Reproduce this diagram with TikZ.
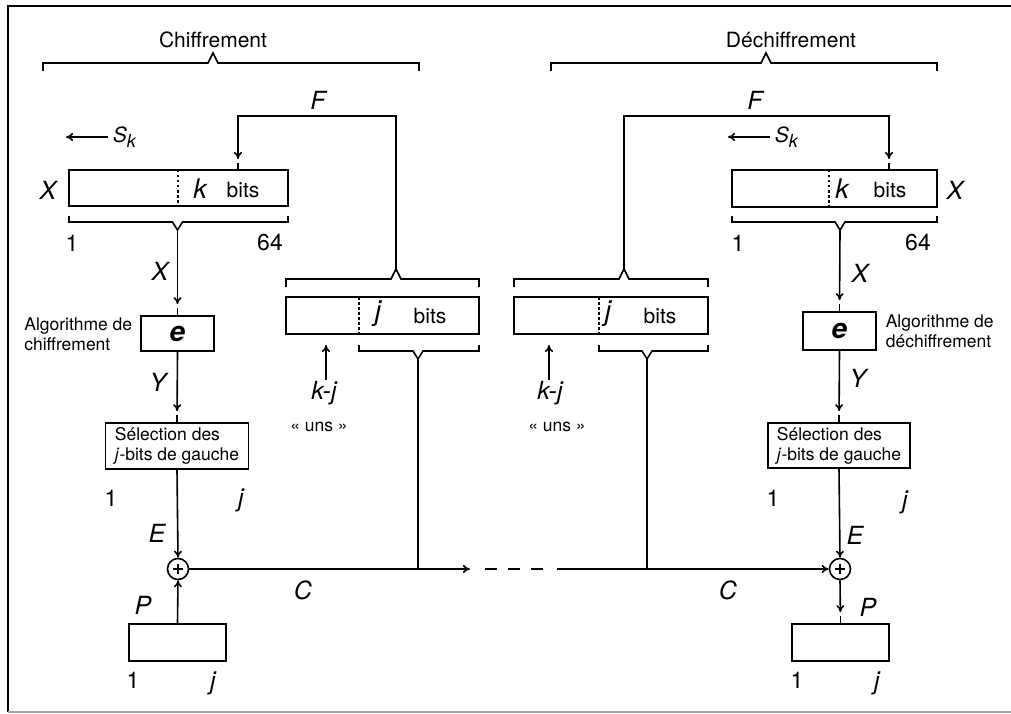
\documentclass[tikz,border=0pt]{standalone}
\usepackage{fontspec}
\setmainfont{TeX Gyre Heros}
\usetikzlibrary{arrows.meta}

% crochets horizontaux : x1, x2, y, x du sommet
\newcommand\brackup[4]{\draw (#1,#3+8) -- (#1,#3) -- (#4-5,#3) -- (#4,#3-10) -- (#4+5,#3) -- (#2,#3) -- (#2,#3+8);}
\newcommand\brackdown[4]{\draw (#1,#3-6) -- (#1,#3) -- (#4-5,#3) -- (#4,#3+8) -- (#4+5,#3) -- (#2,#3) -- (#2,#3-6);}
\newcommand\Sk{\textit{S}\raisebox{-5pt}{\fontsize{18}{18}\selectfont\textit{k}}}

\begin{document}
\begin{tikzpicture}[x=1pt, y=-1pt, >={To[length=7pt,width=8pt]}, line width=1.6pt,
    box/.style={draw, line width=1.8pt, inner sep=0pt},
    var/.style={font=\fontsize{25}{27}\selectfont\itshape, inner sep=0pt},
    txt/.style={font=\fontsize{21}{24}\selectfont, inner sep=0pt},
    num/.style={font=\fontsize{23}{25}\selectfont, inner sep=0pt},
    small/.style={font=\fontsize{17.5}{20}\selectfont, align=left, inner sep=0pt},
    divider/.style={line width=1.6pt, dash pattern=on 2.5pt off 2.5pt},
    into/.style={->, shorten >=11pt}]

    \useasboundingbox (0,0) rectangle (1011,714);

    % 0. Cadre
    \draw (8,712) -- (8,6) -- (1011,6);
    \draw[gray!70] (8,712) -- (1011,712);

    % 1. Titres et grands crochets
    \node[txt] (tchif) at (213,40) {Chiffrement};
    \node[txt] (tdech) at (791,40) {Déchiffrement};
    \brackup{43}{419}{63}{213}
    \brackup{551}{937}{63}{766}

    % 2. Registres X de 64 bits
    \node[box, minimum width=219, minimum height=36] (xl) at (178.5,188) {};
    \node[box, minimum width=205, minimum height=37] (xr) at (834.5,188.5) {};
    \draw[divider] (178,170) -- (178,206);
    \draw[divider] (829,170) -- (829,207);
    \node[var, font=\fontsize{27}{29}\selectfont\itshape] at (200,189) {k};
    \node[txt] at (243,190) {bits};
    \node[var, font=\fontsize{27}{29}\selectfont\itshape] at (842,189) {k};
    \node[txt] at (890,190) {bits};
    \node[var] at (48,190) {X};
    \node[var] at (955,190) {X};
    \brackdown{69}{288}{222}{177.5}
    \brackdown{732}{937}{222}{840}
    \node[num] at (72,243) {1};
    \node[num] at (270,243) {64};
    \node[num] at (738,243) {1};
    \node[num] at (918,243) {64};

    % 3. Décalage S_k
    \node[txt, anchor=west] (skl) at (112,137) {\Sk};
    \node[txt, anchor=west] (skr) at (774,137) {\Sk};
    \draw[->, shorten <=4pt] (skl.west) -- ++(-46,0);
    \draw[->, shorten <=4pt] (skr.west) -- ++(-46,0);

    % 4. Registres de j bits
    \node[box, minimum width=193, minimum height=37] (jl) at (382.5,315.5) {};
    \node[box, minimum width=194, minimum height=37] (jr) at (611,315.5) {};
    \draw[divider] (359,297) -- (359,334);
    \draw[divider] (599,297) -- (599,334);
    \node[var, font=\fontsize{28}{30}\selectfont\itshape] at (378,314) {j};
    \node[txt] at (430,316) {bits};
    \node[var, font=\fontsize{28}{30}\selectfont\itshape] at (608,314) {j};
    \node[txt] at (660,316) {bits};
    \brackup{286}{479}{279}{396}
    \brackup{514}{708}{279}{624}
    \brackdown{359}{479}{351}{418}
    \brackdown{599}{708}{351}{647}
    \node[var] (kjl) at (324,393) {k-j};
    \node[var] (kjr) at (550,393) {k-j};
    \node[small] at (319,427) {« uns »};
    \node[small] at (557,427) {« uns »};
    \draw[->] (kjl.north -| 326,0) -- (326,345);
    \draw[->] (kjr.north -| 549,0) -- (549,345);

    % 5. Rebouclage F
    \coordinate (cl) at (396,269);
    \coordinate (cr) at (624,269);
    \coordinate (finl) at (238,170);
    \coordinate (finr) at (889,170);
    \draw[into] (cl) -- (396,116) -| (finl);
    \draw[into] (cr) -- (624,116) -| (finr);
    \draw (finl) -- ++(0,-7);
    \draw (finr) -- ++(0,-7);
    \node[var] at (318,100) {F};
    \node[var] at (755,100) {F};

    % 6. Algorithmes e
    \node[box, minimum width=73, minimum height=35,
          font=\fontsize{28}{29}\selectfont\bfseries\itshape] (el) at (177.5,333.5) {e};
    \node[box, minimum width=73, minimum height=38,
          font=\fontsize{28}{29}\selectfont\bfseries\itshape] (er) at (839.5,331) {e};
    \node[small, anchor=east] at (133,334) {Algorithme de\\chiffrement};
    \node[small, anchor=west] at (885,331) {Algorithme de\\déchiffrement};
    \coordinate (vl) at (177.5,230);
    \coordinate (vr) at (840,230);
    \draw[into] (vl) -- (el.north);
    \draw[into] (vr) -- (er.north);
    \draw (el.north) -- ++(0,-7);
    \draw (er.north) -- ++(0,-7);
    \node[var] at (160,271) {X};
    \node[var] at (860,273) {X};

    % 7. Sélection des j bits de gauche
    \node[box, minimum width=143, minimum height=46, small, align=left,
          inner sep=0pt] (sl) at (177,446) {Sélection des\\\textit{j}-bits de gauche};
    \node[box, minimum width=142, minimum height=45, small, align=left,
          inner sep=0pt] (sr) at (839,445.5) {Sélection des\\\textit{j}-bits de gauche};
    \draw[into] (el.south) -- (sl.north);
    \draw[into] (er.south) -- (sr.north);
    \draw (sl.north) -- ++(0,-7);
    \draw (sr.north) -- ++(0,-7);
    \node[var] at (158,382) {Y};
    \node[var] at (858,378) {Y};
    \node[num] at (111,498) {1};
    \node[var] at (241,500) {j};
    \node[num] at (773,498) {1};
    \node[var] at (905,502) {j};

    % 8. Additions modulo 2
    \node[circle, draw, minimum size=21, inner sep=0pt] (xorl) at (178,569) {};
    \node[circle, draw, minimum size=21, inner sep=0pt] (xorr) at (840,569) {};
    \foreach \n in {xorl, xorr} {
        \draw (\n.center) ++(-5,0) -- ++(10,0);
        \draw (\n.center) ++(0,-5) -- ++(0,10);
    }
    \draw[->] (sl.south) -- (xorl.north);
    \draw[->] (sr.south) -- (xorr.north);
    \node[var] at (157,533) {E};
    \node[var] at (855,535) {E};

    % 9. Texte clair P
    \node[box, minimum width=97, minimum height=37] (pl) at (177.5,642.5) {};
    \node[box, minimum width=97, minimum height=37] (pr) at (840.5,642.5) {};
    \draw[->] (pl.north) -- (xorl.south);
    \draw[into] (xorr.south) -- (pr.north);
    \draw (pr.north) -- ++(0,-7);
    \node[var] at (143,605) {P};
    \node[var] at (868,607) {P};
    \node[num] at (133,680) {1};
    \node[var] at (213,683) {j};
    \node[num] at (797,680) {1};
    \node[var] at (877,683) {j};

    % 10. Chiffré C
    \coordinate (cgo) at (470,569);
    \coordinate (cback) at (557,569);
    \draw[->] (xorl.east) -- (cgo);
    \draw[dash pattern=on 12pt off 11pt] (485,569) -- (545,569);
    \draw[->] (cback) -- (xorr.west);
    \draw (418,359) -- (418,569);
    \draw (647,359) -- (647,569);
    \node[var] at (303,590) {C};
    \node[var] at (728,590) {C};

\end{tikzpicture}
\end{document}
